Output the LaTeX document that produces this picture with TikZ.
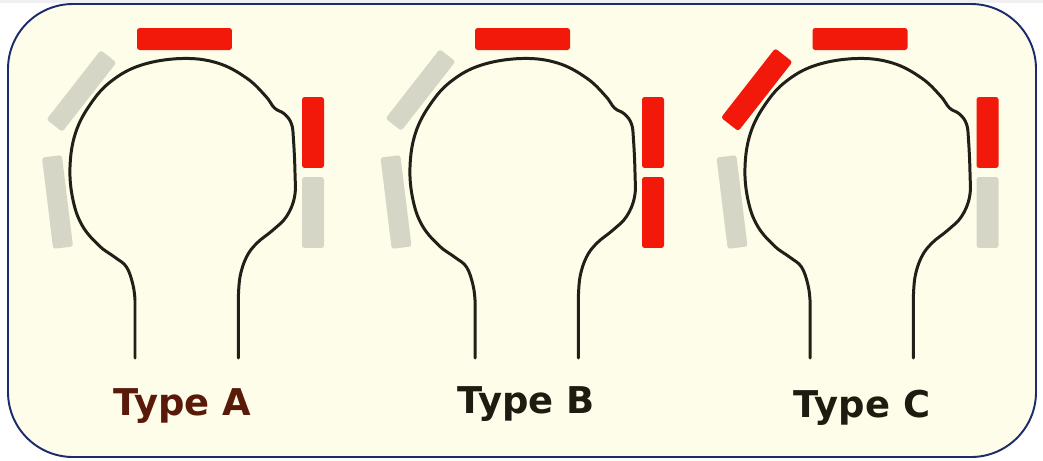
\documentclass[tikz,border=0pt]{standalone}
\usepackage{fontspec}
\setmainfont{DejaVu Sans}
\usepackage{xcolor}
\definecolor{fond}{HTML}{FDFDE9}
\definecolor{cadre}{HTML}{1B2B6B}
\definecolor{rougepad}{HTML}{F2180A}
\definecolor{grispad}{HTML}{D6D6C6}
\definecolor{trait}{HTML}{201F18}
\definecolor{brun}{HTML}{5A1A0A}
\definecolor{noirtxt}{HTML}{1E1B10}

% contour tete + col, centre du col en #1
\newcommand{\profil}[1]{%
  \begin{scope}[shift={(#1,0)}]
    \draw[os] (-51.5,358) -- plot[smooth, tension=0.65] coordinates {
      (-51.5,300) (-53.5,285) (-60,267) (-72,257) (-87,246)
      (-104,226) (-113.5,200) (-116.5,167) (-111,133) (-96,104)
      (-75,81) (-45,65) (-4.5,58.5) (31,63) (60,78) (79,96)
      (88,108) (98,114) (105,124) (107,140) (108.5,173)
      (108,197) (100,216.5) (86.5,230) (70.5,243) (60,257)
      (53.5,277) (51.8,300)} -- (51.8,358);
  \end{scope}}

\begin{document}
\begin{tikzpicture}[x=0.02cm, y=-0.02cm,
  os/.style={trait, line width=1.7pt, line join=round, line cap=round},
  pad/.style={draw=none, rounded corners=1.5pt, inner sep=0pt},
  padrouge/.style={pad, fill=rougepad},
  padgris/.style={pad, fill=grispad},
  haut/.style={minimum width=1.9cm, minimum height=0.44cm},
  diag/.style={minimum width=1.76cm, minimum height=0.4cm, rotate=52},
  gauche/.style={minimum width=0.4cm, minimum height=1.84cm, rotate=7},
  droit/.style={minimum width=0.44cm, minimum height=1.42cm},
  etiquette/.style={font=\bfseries\fontsize{21}{25}\selectfont, inner sep=0pt, anchor=base}]
  \useasboundingbox (0,0) rectangle (1043,460);
  \fill[white] (0,0) rectangle (1043,460);
  \fill[gray!12] (0,0) rectangle (1043,3);

  % Cadre
  \draw[cadre, line width=1.1pt, fill=fond, rounded corners=1.3cm] (8,4) rectangle (1036,457);

  % Contours
  \profil{186.5}
  \profil{526.5}
  \profil{861.5}

  % Type A
  \node[padrouge, haut] (hautA) at (184.5,39) {};
  \node[padgris, diag] (diagA) at (81.5,91) {};
  \node[padgris, gauche] (gaucheA) at (57.5,202) {};
  \node[padrouge, droit] (droitA1) at (313,132.5) {};
  \node[padgris, droit] (droitA2) at (313,212.5) {};

  % Type B
  \node[padrouge, haut] (hautB) at (522.5,39) {};
  \node[padgris, diag] (diagB) at (420.5,90) {};
  \node[padgris, gauche] (gaucheB) at (396,202) {};
  \node[padrouge, droit] (droitB1) at (653,132.5) {};
  \node[padrouge, droit] (droitB2) at (653,212.5) {};

  % Type C
  \node[padrouge, haut] (hautC) at (860,39) {};
  \node[padrouge, diag, minimum height=0.44cm] (diagC) at (756.75,89.75) {};
  \node[padgris, gauche] (gaucheC) at (732,202) {};
  \node[padrouge, droit] (droitC1) at (987.5,132.5) {};
  \node[padgris, droit] (droitC2) at (987.5,212.5) {};

  % Legendes
  \node[etiquette, text=brun] (typeA) at (182.5,415) {Type A};
  \node[etiquette, text=noirtxt] (typeB) at (526,413) {Type B};
  \node[etiquette, text=noirtxt] (typeC) at (862,417) {Type C};
\end{tikzpicture}
\end{document}
